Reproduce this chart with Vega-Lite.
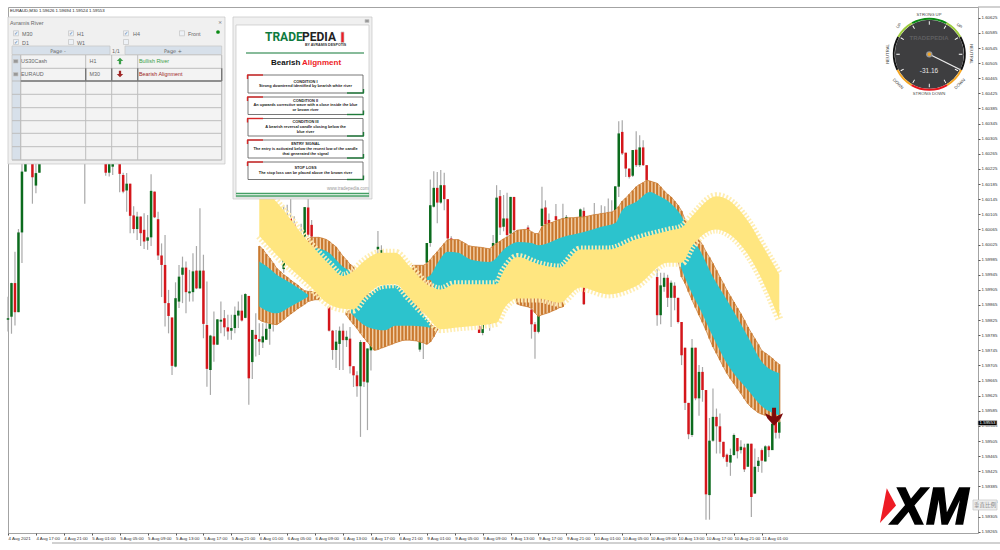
{"$schema":"https://vega.github.io/schema/vega-lite/v6.json","width":970,"height":526,"autosize":"none","padding":{"left":8,"top":7,"right":22,"bottom":17},"background":"white","config":{"view":{"stroke":"#a3a3a3","strokeWidth":1},"legend":{"disable":true},"text":{"font":"Liberation Sans"},"axis":{"labelFont":"Liberation Sans","labelFontSize":4.4,"labelColor":"#333","tickColor":"#555","tickSize":2,"domain":false,"grid":false,"title":null,"labelOverlap":false,"labelBound":false,"labelFlush":false}},
"datasets":{
"candles":[
{"b":0,"o":1.59826,"h":1.59887,"l":1.59795,"c":1.5983},{"b":1,"o":1.59834,"h":1.59924,"l":1.59789,"c":1.59923},{"b":2,"o":1.59923,"h":1.60006,"l":1.59811,"c":1.59846},{"b":3,"o":1.59846,"h":1.60066,"l":1.59846,"c":1.60057},{"b":4,"o":1.60057,"h":1.6024,"l":1.59976,"c":1.60218},{"b":5,"o":1.60218,"h":1.6027,"l":1.60218,"c":1.60245},{"b":7,"o":1.6026,"h":1.6027,"l":1.60133,"c":1.60203},{"b":8,"o":1.60181,"h":1.6024,"l":1.60161,"c":1.60214},{"b":9,"o":1.60215,"h":1.6027,"l":1.60215,"c":1.6025},{"b":22,"o":1.603,"h":1.6032,"l":1.60133,"c":1.6031},{"b":28,"o":1.6026,"h":1.6027,"l":1.60207,"c":1.60215},{"b":29,"o":1.60215,"h":1.6027,"l":1.60205,"c":1.60255},{"b":30,"o":1.60231,"h":1.6027,"l":1.60209,"c":1.6024},{"b":32,"o":1.6025,"h":1.6027,"l":1.60163,"c":1.60212},{"b":33,"o":1.60209,"h":1.60215,"l":1.60161,"c":1.60165},{"b":34,"o":1.60168,"h":1.60214,"l":1.60112,"c":1.60186},{"b":35,"o":1.60186,"h":1.60186,"l":1.60055,"c":1.60101},{"b":36,"o":1.60102,"h":1.60126,"l":1.60055,"c":1.60066},{"b":37,"o":1.60066,"h":1.60112,"l":1.60037,"c":1.60099},{"b":38,"o":1.60099,"h":1.60099,"l":1.60021,"c":1.60055},{"b":39,"o":1.60064,"h":1.60108,"l":1.60013,"c":1.60033},{"b":40,"o":1.60035,"h":1.60103,"l":1.60011,"c":1.60044},{"b":41,"o":1.60044,"h":1.60211,"l":1.60021,"c":1.60167},{"b":42,"o":1.60165,"h":1.60165,"l":1.60095,"c":1.60097},{"b":43,"o":1.60092,"h":1.60112,"l":1.59984,"c":1.59996},{"b":44,"o":1.59996,"h":1.60028,"l":1.59886,"c":1.59971},{"b":45,"o":1.59971,"h":1.6005,"l":1.59808,"c":1.5987},{"b":46,"o":1.5987,"h":1.59905,"l":1.5979,"c":1.59836},{"b":47,"o":1.59832,"h":1.59832,"l":1.5968,"c":1.59704},{"b":48,"o":1.59702,"h":1.59925,"l":1.597,"c":1.59883},{"b":49,"o":1.59874,"h":1.59971,"l":1.59857,"c":1.5994},{"b":50,"o":1.59945,"h":1.59993,"l":1.5987,"c":1.59964},{"b":51,"o":1.59964,"h":1.5998,"l":1.59843,"c":1.59899},{"b":52,"o":1.59896,"h":1.59958,"l":1.59874,"c":1.59901},{"b":53,"o":1.59899,"h":1.60002,"l":1.59874,"c":1.59954},{"b":54,"o":1.59956,"h":1.60021,"l":1.59907,"c":1.59909},{"b":55,"o":1.59909,"h":1.60121,"l":1.59907,"c":1.59956},{"b":56,"o":1.59956,"h":1.59998,"l":1.59777,"c":1.59815},{"b":57,"o":1.59812,"h":1.59927,"l":1.59649,"c":1.59696},{"b":58,"o":1.59693,"h":1.59786,"l":1.59627,"c":1.59784},{"b":59,"o":1.59782,"h":1.59848,"l":1.59715,"c":1.5976},{"b":60,"o":1.5976,"h":1.59827,"l":1.5976,"c":1.59827},{"b":61,"o":1.59821,"h":1.59874,"l":1.5979,"c":1.59826},{"b":62,"o":1.5983,"h":1.59852,"l":1.59782,"c":1.59806},{"b":63,"o":1.59806,"h":1.59839,"l":1.59773,"c":1.59795},{"b":64,"o":1.59797,"h":1.59839,"l":1.59773,"c":1.59804},{"b":65,"o":1.59804,"h":1.59861,"l":1.5979,"c":1.59839},{"b":66,"o":1.59837,"h":1.59874,"l":1.59804,"c":1.5985},{"b":67,"o":1.5985,"h":1.59892,"l":1.59821,"c":1.59824},{"b":68,"o":1.59831,"h":1.59896,"l":1.5983,"c":1.59894},{"b":69,"o":1.59889,"h":1.59889,"l":1.59601,"c":1.59671},{"b":70,"o":1.59714,"h":1.59799,"l":1.59669,"c":1.59799},{"b":71,"o":1.59786,"h":1.59843,"l":1.59729,"c":1.59775},{"b":72,"o":1.59775,"h":1.59817,"l":1.59733,"c":1.59768},{"b":73,"o":1.59766,"h":1.59817,"l":1.59751,"c":1.59782},{"b":74,"o":1.59773,"h":1.59826,"l":1.59773,"c":1.59802},{"b":75,"o":1.59802,"h":1.59852,"l":1.5976,"c":1.59815},{"b":76,"o":1.59815,"h":1.59861,"l":1.59795,"c":1.59825},{"b":79,"o":1.5996,"h":1.60126,"l":1.5995,"c":1.6001},{"b":80,"o":1.6001,"h":1.6013,"l":1.5999,"c":1.6004},{"b":81,"o":1.60095,"h":1.60161,"l":1.6,"c":1.6008},{"b":82,"o":1.6008,"h":1.601,"l":1.6,"c":1.6002},{"b":84,"o":1.6,"h":1.6008,"l":1.5998,"c":1.6005},{"b":85,"o":1.60046,"h":1.60124,"l":1.60037,"c":1.60124},{"b":86,"o":1.60123,"h":1.60148,"l":1.60046,"c":1.60051},{"b":87,"o":1.60077,"h":1.6009,"l":1.60042,"c":1.60046},{"b":92,"o":1.59861,"h":1.59861,"l":1.59795,"c":1.59797},{"b":93,"o":1.59797,"h":1.59799,"l":1.5972,"c":1.59746},{"b":94,"o":1.59746,"h":1.59799,"l":1.59698,"c":1.59768},{"b":95,"o":1.59762,"h":1.59808,"l":1.59693,"c":1.59797},{"b":96,"o":1.59797,"h":1.59816,"l":1.59693,"c":1.59772},{"b":97,"o":1.59772,"h":1.59797,"l":1.59754,"c":1.59781},{"b":98,"o":1.59776,"h":1.59807,"l":1.59684,"c":1.59703},{"b":99,"o":1.59703,"h":1.59703,"l":1.59648,"c":1.59679},{"b":100,"o":1.59679,"h":1.5969,"l":1.59622,"c":1.5965},{"b":101,"o":1.5965,"h":1.59772,"l":1.59516,"c":1.59767},{"b":102,"o":1.59767,"h":1.59767,"l":1.59648,"c":1.59662},{"b":103,"o":1.5966,"h":1.5975,"l":1.59534,"c":1.5975},{"b":104,"o":1.59745,"h":1.598,"l":1.59692,"c":1.5979},{"b":106,"o":1.60012,"h":1.60061,"l":1.5995,"c":1.60019},{"b":107,"o":1.6,"h":1.60023,"l":1.5995,"c":1.6001},{"b":118,"o":1.59747,"h":1.598,"l":1.59741,"c":1.59767},{"b":119,"o":1.5979,"h":1.5983,"l":1.59722,"c":1.5977},{"b":120,"o":1.59977,"h":1.60029,"l":1.59975,"c":1.60029},{"b":121,"o":1.60029,"h":1.60197,"l":1.60019,"c":1.60129},{"b":122,"o":1.60125,"h":1.60219,"l":1.60123,"c":1.60175},{"b":123,"o":1.60175,"h":1.60217,"l":1.60081,"c":1.60136},{"b":124,"o":1.60136,"h":1.60222,"l":1.60133,"c":1.60182},{"b":125,"o":1.60182,"h":1.60215,"l":1.60116,"c":1.60145},{"b":126,"o":1.60145,"h":1.60145,"l":1.60038,"c":1.60041},{"b":127,"o":1.60041,"h":1.60047,"l":1.5999,"c":1.60035},{"b":135,"o":1.59809,"h":1.5984,"l":1.59791,"c":1.59791},{"b":136,"o":1.59791,"h":1.5983,"l":1.59785,"c":1.59812},{"b":138,"o":1.5983,"h":1.5986,"l":1.59797,"c":1.59815},{"b":139,"o":1.60019,"h":1.6005,"l":1.5999,"c":1.60029},{"b":140,"o":1.60028,"h":1.60182,"l":1.60014,"c":1.60149},{"b":141,"o":1.60153,"h":1.60169,"l":1.6005,"c":1.6007},{"b":142,"o":1.60072,"h":1.60156,"l":1.6006,"c":1.60094},{"b":143,"o":1.60094,"h":1.60162,"l":1.6004,"c":1.6005},{"b":144,"o":1.60054,"h":1.60151,"l":1.6004,"c":1.60151},{"b":145,"o":1.60151,"h":1.60151,"l":1.6005,"c":1.60063},{"b":149,"o":1.6007,"h":1.60076,"l":1.6003,"c":1.6006},{"b":150,"o":1.59853,"h":1.599,"l":1.59776,"c":1.59814},{"b":151,"o":1.59814,"h":1.5982,"l":1.59723,"c":1.59794},{"b":152,"o":1.59794,"h":1.5985,"l":1.5979,"c":1.59838},{"b":153,"o":1.60074,"h":1.60178,"l":1.6007,"c":1.6012},{"b":154,"o":1.60123,"h":1.60142,"l":1.60072,"c":1.60079},{"b":155,"o":1.6009,"h":1.60107,"l":1.6006,"c":1.6008},{"b":157,"o":1.601,"h":1.60132,"l":1.6007,"c":1.6009},{"b":159,"o":1.6009,"h":1.60133,"l":1.6007,"c":1.60094},{"b":160,"o":1.60085,"h":1.60103,"l":1.6007,"c":1.60098},{"b":164,"o":1.60096,"h":1.6012,"l":1.6009,"c":1.60118},{"b":165,"o":1.60114,"h":1.60123,"l":1.59865,"c":1.59867},{"b":168,"o":1.601,"h":1.60135,"l":1.6007,"c":1.6009},{"b":170,"o":1.601,"h":1.60129,"l":1.6007,"c":1.6009},{"b":171,"o":1.601,"h":1.60126,"l":1.6007,"c":1.6009},{"b":172,"o":1.601,"h":1.60147,"l":1.6007,"c":1.6009},{"b":173,"o":1.601,"h":1.60142,"l":1.6007,"c":1.6009},{"b":174,"o":1.60116,"h":1.60179,"l":1.6011,"c":1.60179},{"b":175,"o":1.60178,"h":1.60351,"l":1.60151,"c":1.60319},{"b":176,"o":1.60323,"h":1.60354,"l":1.60262,"c":1.60266},{"b":177,"o":1.60268,"h":1.60268,"l":1.60204,"c":1.60226},{"b":178,"o":1.60226,"h":1.60226,"l":1.602,"c":1.60204},{"b":179,"o":1.60207,"h":1.60275,"l":1.60204,"c":1.60275},{"b":180,"o":1.60276,"h":1.60325,"l":1.6023,"c":1.60235},{"b":181,"o":1.60235,"h":1.60314,"l":1.6023,"c":1.60282},{"b":182,"o":1.60282,"h":1.60301,"l":1.60233,"c":1.60235},{"b":183,"o":1.60235,"h":1.60235,"l":1.6019,"c":1.60195},{"b":186,"o":1.59939,"h":1.5996,"l":1.5981,"c":1.59838},{"b":187,"o":1.59838,"h":1.5995,"l":1.59814,"c":1.59917},{"b":188,"o":1.59913,"h":1.5995,"l":1.599,"c":1.59937},{"b":189,"o":1.59937,"h":1.59945,"l":1.5986,"c":1.59884},{"b":190,"o":1.59884,"h":1.5993,"l":1.59807,"c":1.59924},{"b":191,"o":1.59916,"h":1.59925,"l":1.59851,"c":1.59884},{"b":192,"o":1.59884,"h":1.59884,"l":1.59816,"c":1.5982},{"b":193,"o":1.5982,"h":1.5982,"l":1.59706,"c":1.59732},{"b":194,"o":1.59752,"h":1.59752,"l":1.59587,"c":1.59606},{"b":195,"o":1.59606,"h":1.59606,"l":1.5951,"c":1.59523},{"b":196,"o":1.59521,"h":1.59775,"l":1.59516,"c":1.59752},{"b":197,"o":1.59752,"h":1.59752,"l":1.59613,"c":1.59618},{"b":198,"o":1.59618,"h":1.59706,"l":1.59572,"c":1.59688},{"b":199,"o":1.59688,"h":1.59701,"l":1.59609,"c":1.5964},{"b":200,"o":1.5964,"h":1.5964,"l":1.59297,"c":1.59364},{"b":201,"o":1.59362,"h":1.59566,"l":1.59297,"c":1.59506},{"b":202,"o":1.59506,"h":1.59644,"l":1.59503,"c":1.59569},{"b":203,"o":1.59569,"h":1.59591,"l":1.59472,"c":1.59544},{"b":204,"o":1.59544,"h":1.59578,"l":1.59472,"c":1.59503},{"b":205,"o":1.59503,"h":1.59503,"l":1.59459,"c":1.59463},{"b":206,"o":1.59469,"h":1.59472,"l":1.59437,"c":1.5945},{"b":207,"o":1.59448,"h":1.59485,"l":1.59413,"c":1.59468},{"b":208,"o":1.59468,"h":1.59525,"l":1.59466,"c":1.59521},{"b":209,"o":1.59513,"h":1.59513,"l":1.59459,"c":1.59478},{"b":210,"o":1.59481,"h":1.59507,"l":1.59472,"c":1.5949},{"b":211,"o":1.59488,"h":1.59498,"l":1.59423,"c":1.5943},{"b":212,"o":1.59437,"h":1.59498,"l":1.59437,"c":1.59498},{"b":213,"o":1.59498,"h":1.59498,"l":1.59304,"c":1.59357},{"b":214,"o":1.59366,"h":1.59485,"l":1.59366,"c":1.59437},{"b":215,"o":1.59439,"h":1.59463,"l":1.59423,"c":1.59453},{"b":216,"o":1.59481,"h":1.59485,"l":1.59421,"c":1.59453},{"b":217,"o":1.59451,"h":1.59494,"l":1.59451,"c":1.59491},{"b":218,"o":1.59491,"h":1.59494,"l":1.59463,"c":1.59481},{"b":219,"o":1.59481,"h":1.5956,"l":1.59481,"c":1.59551},{"b":220,"o":1.5956,"h":1.5957,"l":1.59512,"c":1.59527},{"b":221,"o":1.59527,"h":1.59565,"l":1.59512,"c":1.59556}],
"brown":[
{"s":1,"b":72,"t":1.60021,"u":1.59826},{"s":1,"b":73,"t":1.60013,"u":1.59821},{"s":1,"b":74,"t":1.6,"u":1.59819},{"s":1,"b":75,"t":1.59989,"u":1.59816},{"s":1,"b":76,"t":1.59976,"u":1.59814},{"s":1,"b":77,"t":1.59962,"u":1.59813},{"s":1,"b":78,"t":1.59954,"u":1.59819},{"s":1,"b":79,"t":1.59945,"u":1.59826},{"s":1,"b":80,"t":1.59939,"u":1.59834},{"s":1,"b":81,"t":1.59931,"u":1.59841},{"s":1,"b":82,"t":1.59924,"u":1.59848},{"s":1,"b":83,"t":1.59918,"u":1.59855},{"s":1,"b":84,"t":1.59909,"u":1.59861},{"s":1,"b":85,"t":1.59903,"u":1.59867},{"s":1,"b":86,"t":1.59901,"u":1.59874},{"s":1,"b":87,"t":1.59901,"u":1.59877},{"s":1,"b":88,"t":1.59898,"u":1.59879},{"s":1,"b":89,"t":1.59898,"u":1.59879},
{"s":2,"b":86,"t":1.60041,"u":1.5996},{"s":2,"b":87,"t":1.60044,"u":1.5996},{"s":2,"b":88,"t":1.60044,"u":1.5996},{"s":2,"b":89,"t":1.60044,"u":1.5996},{"s":2,"b":90,"t":1.60042,"u":1.5996},{"s":2,"b":91,"t":1.60039,"u":1.5992},{"s":2,"b":92,"t":1.60034,"u":1.5992},{"s":2,"b":93,"t":1.60026,"u":1.5992},{"s":2,"b":94,"t":1.60019,"u":1.5992},{"s":2,"b":95,"t":1.60006,"u":1.5992},{"s":2,"b":96,"t":1.59994,"u":1.5992},{"s":2,"b":97,"t":1.59984,"u":1.5992},{"s":2,"b":98,"t":1.59973,"u":1.5992},{"s":2,"b":99,"t":1.59966,"u":1.5992},
{"s":3,"b":97,"t":1.59847,"u":1.59838},{"s":3,"b":98,"t":1.59851,"u":1.59825},{"s":3,"b":99,"t":1.59856,"u":1.59814},{"s":3,"b":100,"t":1.59869,"u":1.59803},{"s":3,"b":101,"t":1.59878,"u":1.5979},{"s":3,"b":102,"t":1.59887,"u":1.59778},{"s":3,"b":103,"t":1.59895,"u":1.59767},{"s":3,"b":104,"t":1.59895,"u":1.59756},{"s":3,"b":105,"t":1.59895,"u":1.59745},{"s":3,"b":106,"t":1.59895,"u":1.59747},{"s":3,"b":107,"t":1.59895,"u":1.59751},{"s":3,"b":108,"t":1.59895,"u":1.59754},{"s":3,"b":109,"t":1.59895,"u":1.59758},{"s":3,"b":110,"t":1.59895,"u":1.59761},{"s":3,"b":111,"t":1.59895,"u":1.59765},{"s":3,"b":112,"t":1.59895,"u":1.59768},{"s":3,"b":113,"t":1.59895,"u":1.59771},{"s":3,"b":114,"t":1.59895,"u":1.59772},{"s":3,"b":115,"t":1.59895,"u":1.59772},{"s":3,"b":116,"t":1.59895,"u":1.59771},{"s":3,"b":117,"t":1.59895,"u":1.5977},{"s":3,"b":118,"t":1.59895,"u":1.59767},{"s":3,"b":119,"t":1.59834,"u":1.59765},{"s":3,"b":120,"t":1.59825,"u":1.59761},{"s":3,"b":121,"t":1.59816,"u":1.59767},{"s":3,"b":122,"t":1.59807,"u":1.59781},{"s":3,"b":123,"t":1.59803,"u":1.59798},
{"s":4,"b":116,"t":1.5997,"u":1.59913},{"s":4,"b":117,"t":1.5997,"u":1.59913},{"s":4,"b":118,"t":1.5997,"u":1.59913},{"s":4,"b":119,"t":1.5997,"u":1.59913},{"s":4,"b":120,"t":1.59975,"u":1.59913},{"s":4,"b":121,"t":1.59985,"u":1.59913},{"s":4,"b":122,"t":1.59996,"u":1.59913},{"s":4,"b":123,"t":1.60006,"u":1.59913},{"s":4,"b":124,"t":1.60017,"u":1.59913},{"s":4,"b":125,"t":1.60028,"u":1.59913},{"s":4,"b":126,"t":1.60038,"u":1.59913},{"s":4,"b":127,"t":1.60038,"u":1.59913},{"s":4,"b":128,"t":1.60038,"u":1.59913},{"s":4,"b":129,"t":1.60038,"u":1.59913},{"s":4,"b":130,"t":1.60033,"u":1.59913},{"s":4,"b":131,"t":1.60028,"u":1.59913},{"s":4,"b":132,"t":1.60022,"u":1.59913},{"s":4,"b":133,"t":1.6002,"u":1.59913},{"s":4,"b":134,"t":1.60019,"u":1.59913},{"s":4,"b":135,"t":1.60018,"u":1.59913},{"s":4,"b":136,"t":1.60017,"u":1.59913},{"s":4,"b":137,"t":1.60015,"u":1.59913},{"s":4,"b":138,"t":1.60014,"u":1.59913},{"s":4,"b":139,"t":1.60021,"u":1.59913},{"s":4,"b":140,"t":1.60028,"u":1.59913},{"s":4,"b":141,"t":1.60034,"u":1.59913},{"s":4,"b":142,"t":1.6004,"u":1.59913},{"s":4,"b":143,"t":1.60045,"u":1.59913},{"s":4,"b":144,"t":1.60051,"u":1.59913},{"s":4,"b":145,"t":1.60057,"u":1.59913},{"s":4,"b":146,"t":1.60063,"u":1.59867},{"s":4,"b":147,"t":1.60064,"u":1.59864},{"s":4,"b":148,"t":1.60065,"u":1.59862},{"s":4,"b":149,"t":1.60065,"u":1.5986},{"s":4,"b":150,"t":1.60059,"u":1.59856},{"s":4,"b":151,"t":1.60054,"u":1.59844},{"s":4,"b":152,"t":1.60054,"u":1.59835},{"s":4,"b":153,"t":1.60072,"u":1.59839},{"s":4,"b":154,"t":1.60078,"u":1.59842},{"s":4,"b":155,"t":1.60081,"u":1.59845},{"s":4,"b":156,"t":1.60084,"u":1.59849},{"s":4,"b":157,"t":1.60088,"u":1.59853},{"s":4,"b":158,"t":1.60091,"u":1.59858},{"s":4,"b":159,"t":1.60094,"u":1.5986},{"s":4,"b":160,"t":1.60095,"u":1.59922},{"s":4,"b":161,"t":1.60096,"u":1.59922},{"s":4,"b":162,"t":1.60096,"u":1.59922},{"s":4,"b":163,"t":1.60097,"u":1.59922},{"s":4,"b":164,"t":1.60098,"u":1.59922},{"s":4,"b":165,"t":1.60098,"u":1.59922},{"s":4,"b":166,"t":1.601,"u":1.59922},{"s":4,"b":167,"t":1.60102,"u":1.59922},{"s":4,"b":168,"t":1.60104,"u":1.59922},{"s":4,"b":169,"t":1.60105,"u":1.59922},{"s":4,"b":170,"t":1.60107,"u":1.59922},{"s":4,"b":171,"t":1.60108,"u":1.59922},{"s":4,"b":172,"t":1.6011,"u":1.59922},{"s":4,"b":173,"t":1.60111,"u":1.59922},{"s":4,"b":174,"t":1.60116,"u":1.59922},{"s":4,"b":175,"t":1.60126,"u":1.59922},{"s":4,"b":176,"t":1.6014,"u":1.59922},{"s":4,"b":177,"t":1.60148,"u":1.59922},{"s":4,"b":178,"t":1.60158,"u":1.59922},{"s":4,"b":179,"t":1.60168,"u":1.59922},{"s":4,"b":180,"t":1.60178,"u":1.59984},{"s":4,"b":181,"t":1.60184,"u":1.59984},{"s":4,"b":182,"t":1.60189,"u":1.59984},{"s":4,"b":183,"t":1.60195,"u":1.59984},{"s":4,"b":184,"t":1.60193,"u":1.59984},{"s":4,"b":185,"t":1.6019,"u":1.59984},{"s":4,"b":186,"t":1.60187,"u":1.59984},{"s":4,"b":187,"t":1.60178,"u":1.59984},{"s":4,"b":188,"t":1.60167,"u":1.59984},{"s":4,"b":189,"t":1.60158,"u":1.59984},{"s":4,"b":190,"t":1.60151,"u":1.59984},{"s":4,"b":191,"t":1.6014,"u":1.59984},{"s":4,"b":192,"t":1.60129,"u":1.59984},{"s":4,"b":193,"t":1.60114,"u":1.59939},{"s":4,"b":194,"t":1.60091,"u":1.59922},{"s":4,"b":195,"t":1.60081,"u":1.599},{"s":4,"b":196,"t":1.60067,"u":1.59878},{"s":4,"b":197,"t":1.60054,"u":1.59858},{"s":4,"b":198,"t":1.60039,"u":1.59838},{"s":4,"b":199,"t":1.60024,"u":1.59819},{"s":4,"b":200,"t":1.60006,"u":1.59798},{"s":4,"b":201,"t":1.59991,"u":1.59776},{"s":4,"b":202,"t":1.59975,"u":1.59754},{"s":4,"b":203,"t":1.59957,"u":1.59737},{"s":4,"b":204,"t":1.59939,"u":1.59719},{"s":4,"b":205,"t":1.59922,"u":1.59701},{"s":4,"b":206,"t":1.59904,"u":1.59684},{"s":4,"b":207,"t":1.59888,"u":1.5967},{"s":4,"b":208,"t":1.59873,"u":1.59657},{"s":4,"b":209,"t":1.59857,"u":1.59644},{"s":4,"b":210,"t":1.59842,"u":1.59631},{"s":4,"b":211,"t":1.59825,"u":1.59617},{"s":4,"b":212,"t":1.59807,"u":1.59604},{"s":4,"b":213,"t":1.59791,"u":1.59594},{"s":4,"b":214,"t":1.59776,"u":1.59587},{"s":4,"b":215,"t":1.59761,"u":1.5958},{"s":4,"b":216,"t":1.59744,"u":1.59576},{"s":4,"b":217,"t":1.59738,"u":1.59573},{"s":4,"b":218,"t":1.59731,"u":1.59569},{"s":4,"b":219,"t":1.59724,"u":1.59565},{"s":4,"b":220,"t":1.59715,"u":1.59558},{"s":4,"b":221,"t":1.59708,"u":1.59555}],
"blue":[
{"s":1,"b":72,"t":1.5998,"u":1.59861},{"s":1,"b":74,"t":1.59968,"u":1.5985},{"s":1,"b":77,"t":1.59945,"u":1.59843},{"s":1,"b":81,"t":1.59923,"u":1.59861},{"s":1,"b":86,"t":1.59892,"u":1.59887},
{"s":2,"b":88,"t":1.60015,"u":1.5996},{"s":2,"b":90,"t":1.60012,"u":1.5995},{"s":2,"b":92,"t":1.60003,"u":1.599},{"s":2,"b":94,"t":1.59985,"u":1.599},{"s":2,"b":96,"t":1.59966,"u":1.599},{"s":2,"b":98,"t":1.59955,"u":1.599},
{"s":3,"b":98,"t":1.59851,"u":1.59847},{"s":3,"b":103,"t":1.59891,"u":1.59807},{"s":3,"b":108,"t":1.59917,"u":1.59798},{"s":3,"b":111,"t":1.59917,"u":1.5981},{"s":3,"b":114,"t":1.59895,"u":1.5981},{"s":3,"b":118,"t":1.59851,"u":1.59809},{"s":3,"b":121,"t":1.59816,"u":1.59805},
{"s":4,"b":120,"t":1.59939,"u":1.59931},{"s":4,"b":121,"t":1.59944,"u":1.59931},{"s":4,"b":123,"t":1.59975,"u":1.59895},{"s":4,"b":126,"t":1.60006,"u":1.59895},{"s":4,"b":129,"t":1.60003,"u":1.59904},{"s":4,"b":133,"t":1.59984,"u":1.59904},{"s":4,"b":138,"t":1.59979,"u":1.59904},{"s":4,"b":143,"t":1.60019,"u":1.59931},{"s":4,"b":146,"t":1.60032,"u":1.59966},{"s":4,"b":150,"t":1.60029,"u":1.5996},{"s":4,"b":152,"t":1.60023,"u":1.59948},{"s":4,"b":159,"t":1.60045,"u":1.59939},{"s":4,"b":165,"t":1.60058,"u":1.59984},{"s":4,"b":170,"t":1.60072,"u":1.5999},{"s":4,"b":174,"t":1.60082,"u":1.5999},{"s":4,"b":176,"t":1.60116,"u":1.6},{"s":4,"b":180,"t":1.60138,"u":1.6001},{"s":4,"b":184,"t":1.60164,"u":1.6002},{"s":4,"b":186,"t":1.60156,"u":1.6003},{"s":4,"b":190,"t":1.60133,"u":1.6004},{"s":4,"b":193,"t":1.601,"u":1.5996},{"s":4,"b":196,"t":1.6004,"u":1.59895},{"s":4,"b":198,"t":1.60014,"u":1.5986},{"s":4,"b":202,"t":1.59939,"u":1.59781},{"s":4,"b":206,"t":1.59878,"u":1.5971},{"s":4,"b":212,"t":1.59781,"u":1.5964},{"s":4,"b":216,"t":1.59715,"u":1.59597},{"s":4,"b":221,"t":1.59685,"u":1.59573}],
"yellow":[
{"b":72,"t":1.60185,"u":1.60048},{"b":77,"t":1.60137,"u":1.59997},{"b":86,"t":1.60033,"u":1.5992},{"b":92,"t":1.59973,"u":1.59867},{"b":96,"t":1.59942,"u":1.59855},{"b":99,"t":1.59955,"u":1.59853},{"b":102,"t":1.59981,"u":1.59884},{"b":107,"t":1.60003,"u":1.59917},{"b":111,"t":1.60003,"u":1.5992},{"b":115,"t":1.59968,"u":1.59884},{"b":120,"t":1.5992,"u":1.59836},{"b":124,"t":1.59906,"u":1.59801},{"b":128,"t":1.5992,"u":1.59805},{"b":140,"t":1.5992,"u":1.59818},{"b":142,"t":1.59955,"u":1.59853},{"b":146,"t":1.59992,"u":1.59882},{"b":152,"t":1.59973,"u":1.59882},{"b":158,"t":1.59964,"u":1.59871},{"b":164,"t":1.60012,"u":1.59911},{"b":172,"t":1.60012,"u":1.59893},{"b":180,"t":1.60039,"u":1.59915},{"b":189,"t":1.60061,"u":1.59977},{"b":193,"t":1.6007,"u":1.59977},{"b":196,"t":1.601,"u":1.60021},{"b":203,"t":1.60153,"u":1.60065},{"b":206,"t":1.60145,"u":1.60056},{"b":212,"t":1.60087,"u":1.59999},{"b":216,"t":1.60025,"u":1.59933},{"b":221,"t":1.59946,"u":1.59827}],
"rects":[
{"r":"bg","x":8,"x2":225,"y":17,"y2":164},{"r":"bl","x":12,"x2":110,"y":46,"y2":54.5},{"r":"bl","x":125,"x2":221.7,"y":46,"y2":54.5},{"r":"bl","x":12,"x2":20.7,"y":55,"y2":160},{"r":"cell","x":20.7,"x2":221.7,"y":55,"y2":160},
{"r":"box","x":13.5,"x2":18.5,"y":30.8,"y2":35.8},{"r":"box","x":68.5,"x2":73.5,"y":30.8,"y2":35.8},{"r":"box","x":123.5,"x2":128.5,"y":30.8,"y2":35.8},{"r":"box","x":179.5,"x2":184.5,"y":30.8,"y2":35.8},{"r":"box","x":13.5,"x2":18.5,"y":39.5,"y2":44.5},{"r":"box","x":68.5,"x2":73.5,"y":39.5,"y2":44.5},{"r":"box","x":123.5,"x2":128.5,"y":39.5,"y2":44.5},
{"r":"gry","x":13.5,"x2":18,"y":59.5,"y2":63},{"r":"gry","x":13.5,"x2":18,"y":72.5,"y2":76},
{"r":"bg","x":233,"x2":372,"y":17,"y2":199},{"r":"wh","x":236,"x2":369,"y":25,"y2":197},{"r":"gry","x":365,"x2":369,"y":19.5,"y2":22.5},{"r":"hr","x":341,"x2":344,"y":32,"y2":42.5},
{"r":"blk","x":978,"x2":997,"y":420.5,"y2":425.5},{"r":"btn2","x":973,"x2":997,"y":500,"y2":510}],
"boxes":[{"x":248,"x2":363,"y":75,"y2":93},{"x":248,"x2":363,"y":97,"y2":114.5},{"x":248,"x2":363,"y":118.5,"y2":136},{"x":248,"x2":363,"y":140,"y2":158},{"x":248,"x2":363,"y":162,"y2":179.5}],
"rules":[
{"r":"grid","x":20.7,"x2":221.7,"y":68.3,"y2":68.3},{"r":"grid","x":12,"x2":221.7,"y":81,"y2":81},{"r":"grid","x":12,"x2":221.7,"y":94.3,"y2":94.3},{"r":"grid","x":12,"x2":221.7,"y":107.7,"y2":107.7},{"r":"grid","x":12,"x2":221.7,"y":120.7,"y2":120.7},{"r":"grid","x":12,"x2":221.7,"y":133.3,"y2":133.3},{"r":"grid","x":12,"x2":221.7,"y":146.7,"y2":146.7},{"r":"grid","x":12,"x2":221.7,"y":160,"y2":160},{"r":"grid","x":20.7,"x2":20.7,"y":55,"y2":160},{"r":"grid","x":85.7,"x2":85.7,"y":55,"y2":160},{"r":"grid","x":111.7,"x2":111.7,"y":55,"y2":160},{"r":"grid","x":137.7,"x2":137.7,"y":55,"y2":160},{"r":"grid","x":221.7,"x2":221.7,"y":55,"y2":160},
{"r":"sel","x":20.7,"x2":221.7,"y":81,"y2":81},{"r":"sel","x":221.7,"x2":221.7,"y":68.3,"y2":81},{"r":"sel","x":85.7,"x2":85.7,"y":68.3,"y2":81},{"r":"sel","x":111.7,"x2":111.7,"y":68.3,"y2":81},{"r":"sel","x":137.7,"x2":137.7,"y":68.3,"y2":81},
{"r":"frame","x":978,"x2":1000,"y":7,"y2":7},{"r":"frame","x":52,"x2":1000,"y":543,"y2":543},
{"r":"ln","x":246,"x2":364,"y":53,"y2":53},{"r":"st","x":236,"x2":369,"y":193.5,"y2":193.5},{"r":"st","x":236,"x2":369,"y":196,"y2":196},
{"r":"cr","x":247,"x2":263,"y":75,"y2":75},{"r":"cr","x":247.5,"x2":247.5,"y":75,"y2":79},{"r":"cg","x":347,"x2":364,"y":93,"y2":93},{"r":"cg","x":363.5,"x2":363.5,"y":89,"y2":93},
{"r":"cr","x":247,"x2":263,"y":97,"y2":97},{"r":"cr","x":247.5,"x2":247.5,"y":97,"y2":101},{"r":"cg","x":347,"x2":364,"y":114.5,"y2":114.5},{"r":"cg","x":363.5,"x2":363.5,"y":110.5,"y2":114.5},
{"r":"cr","x":247,"x2":263,"y":118.5,"y2":118.5},{"r":"cr","x":247.5,"x2":247.5,"y":118.5,"y2":122.5},{"r":"cg","x":347,"x2":364,"y":136,"y2":136},{"r":"cg","x":363.5,"x2":363.5,"y":132,"y2":136},
{"r":"cr","x":247,"x2":263,"y":140,"y2":140},{"r":"cr","x":247.5,"x2":247.5,"y":140,"y2":144},{"r":"cg","x":347,"x2":364,"y":158,"y2":158},{"r":"cg","x":363.5,"x2":363.5,"y":154,"y2":158},
{"r":"cr","x":247,"x2":263,"y":162,"y2":162},{"r":"cr","x":247.5,"x2":247.5,"y":162,"y2":166},{"r":"cg","x":347,"x2":364,"y":179.5,"y2":179.5},{"r":"cg","x":363.5,"x2":363.5,"y":175.5,"y2":179.5}],
"textL":[
{"r":"title","x":10,"y":11,"t":"EURAUD,M30  1.59626 1.59694 1.59524 1.59553"},{"r":"ui","x":10,"y":22.5,"t":"Avramis River"},{"r":"ui","x":22,"y":33.5,"t":"M30"},{"r":"ui","x":77,"y":33.5,"t":"H1"},{"r":"ui","x":133,"y":33.5,"t":"H4"},{"r":"ui","x":188,"y":33.5,"t":"Front"},{"r":"ui","x":22,"y":42.5,"t":"D1"},{"r":"ui","x":77,"y":42.5,"t":"W1"},{"r":"ui","x":21,"y":61,"t":"US30Cash"},{"r":"ui","x":89.5,"y":61,"t":"H1"},{"r":"ui","x":21,"y":74,"t":"EURAUD"},{"r":"ui","x":89.5,"y":74,"t":"M30"},{"r":"bull","x":139,"y":61,"t":"Bullish River"},{"r":"bear","x":139,"y":74,"t":"Bearish Alignment"},{"r":"www","x":327,"y":188.5,"t":"www.tradepedia.com"}],
"textC":[
{"r":"ui","x":58,"y":50.5,"t":"Page -"},{"r":"ui","x":116,"y":50.5,"t":"1/1"},{"r":"ui","x":173,"y":50.5,"t":"Page +"},{"r":"ui","x":220,"y":22,"t":"×"},{"r":"chk","x":16,"y":33.3,"t":"✓"},{"r":"chk","x":71,"y":33.3,"t":"✓"},{"r":"chk","x":126,"y":33.3,"t":"✓"},{"r":"chk","x":16,"y":42,"t":"✓"},{"r":"val","x":929,"y":71,"t":"-31.16"},{"r":"tag","x":987.5,"y":423,"t":"1.59553"}],
"textB":[
{"r":"h","x":305.5,"y":81.7,"t":"CONDITION I"},{"r":"h","x":305.5,"y":86.2,"t":"Strong downtrend identified by bearish white river"},{"r":"h","x":305.5,"y":100.7,"t":"CONDITION II"},{"r":"h","x":305.5,"y":105.3,"t":"An upwards corrective wave with a close inside the blue"},{"r":"h","x":305.5,"y":110,"t":"or brown river"},{"r":"h","x":305.5,"y":122.3,"t":"CONDITION III"},{"r":"h","x":305.5,"y":127,"t":"A bearish reversal candle closing below the"},{"r":"h","x":305.5,"y":132,"t":"blue river"},{"r":"h","x":305.5,"y":144,"t":"ENTRY SIGNAL"},{"r":"h","x":305.5,"y":148.7,"t":"The entry is activated below the recent low of the candle"},{"r":"h","x":305.5,"y":153.7,"t":"that generated the signal"},{"r":"h","x":305.5,"y":168,"t":"STOP LOSS"},{"r":"h","x":305.5,"y":172.7,"t":"The stop loss can be placed above the brown river"},{"r":"faint","x":929,"y":38,"t":"TRADEPEDIA"}],
"textBL":[{"r":"hb","x":271,"y":63,"t":"Bearish"},{"r":"hr","x":302,"y":63,"t":"Alignment"},{"r":"sub","x":305,"y":45,"t":"BY AVRAMIS DESPOTIS"}],
"brand":[{"r":"tg","x":265,"y":37,"t":"TRADE"},{"r":"td","x":302,"y":37,"t":"PEDIA"}],
"gaugeText":[{"r":"g","x":929,"y":15,"a":0,"t":"STRONG UP"},{"r":"g","x":899,"y":26,"a":-45,"t":"UP"},{"r":"g","x":959,"y":26,"a":45,"t":"UP"},{"r":"g","x":888,"y":54,"a":-90,"t":"NEUTRAL"},{"r":"g","x":971,"y":54,"a":90,"t":"NEUTRAL"},{"r":"g","x":898,"y":84,"a":45,"t":"DOWN"},{"r":"g","x":960,"y":84,"a":-45,"t":"DOWN"},{"r":"g","x":929,"y":94,"a":0,"t":"STRONG DOWN"}],
"disk":[{"r":"disk","x":929.3,"y":54.3,"a":0,"e":6.2832}],
"rings":[{"r":"rg","x":929.3,"y":54.3,"a":-0.506,"e":0.506},{"r":"rl","x":929.3,"y":54.3,"a":-1.065,"e":-0.506},{"r":"rl","x":929.3,"y":54.3,"a":0.506,"e":1.065},{"r":"rk","x":929.3,"y":54.3,"a":-2.025,"e":-1.065},{"r":"rk","x":929.3,"y":54.3,"a":1.065,"e":2.025},{"r":"ro","x":929.3,"y":54.3,"a":-2.618,"e":-2.025},{"r":"ro","x":929.3,"y":54.3,"a":2.025,"e":2.618},{"r":"rr","x":929.3,"y":54.3,"a":2.618,"e":3.665}],
"gticks":[{"r":"wh","x":929.3,"y":54.3,"a":-0.015,"e":0.015},{"r":"wh","x":929.3,"y":54.3,"a":0.509,"e":0.539},{"r":"wh","x":929.3,"y":54.3,"a":1.032,"e":1.062},{"r":"wh","x":929.3,"y":54.3,"a":1.556,"e":1.586},{"r":"wh","x":929.3,"y":54.3,"a":2.079,"e":2.109},{"r":"wh","x":929.3,"y":54.3,"a":2.603,"e":2.633},{"r":"wh","x":929.3,"y":54.3,"a":3.127,"e":3.157},{"r":"wh","x":929.3,"y":54.3,"a":-0.539,"e":-0.509},{"r":"wh","x":929.3,"y":54.3,"a":-1.062,"e":-1.032},{"r":"wh","x":929.3,"y":54.3,"a":-1.586,"e":-1.556},{"r":"wh","x":929.3,"y":54.3,"a":-2.109,"e":-2.079},{"r":"wh","x":929.3,"y":54.3,"a":-2.633,"e":-2.603}],
"needle":[{"r":"ndl","x":929.3,"x2":960,"y":54.3,"y2":69.5}]
},
"layer":[
{"encoding":{"x":{"field":"b","type":"quantitative","scale":{"domain":[0,277.94],"nice":false,"zero":false},"axis":{"orient":"bottom","tickCount":100,"values":[0,8,16,24,32,40,48,56,64,72,80,88,96,104,112,120,128,136,144,152,160,168,176,184,192,200,208,216],"labelAlign":"left","labelPadding":1,"labelExpr":"['4 Aug 2021','4 Aug 17:00','4 Aug 21:00','5 Aug 01:00','5 Aug 05:00','5 Aug 09:00','5 Aug 13:00','5 Aug 17:00','5 Aug 21:00','6 Aug 01:00','6 Aug 05:00','6 Aug 09:00','6 Aug 13:00','6 Aug 17:00','6 Aug 21:00','9 Aug 01:00','9 Aug 05:00','9 Aug 09:00','9 Aug 13:00','9 Aug 17:00','9 Aug 21:00','10 Aug 01:00','10 Aug 05:00','10 Aug 09:00','10 Aug 13:00','10 Aug 17:00','10 Aug 21:00','11 Aug 01:00'][datum.value/8]"}}},
"layer":[
{"data":{"name":"candles"},"mark":{"type":"rule","color":"#a9a9a9","strokeWidth":1.2},"encoding":{"y":{"field":"l","type":"quantitative","scale":{"domain":[1.592617,1.606535],"nice":false,"zero":false},"axis":{"orient":"right","format":".5f","labelPadding":1,"labelOverlap":false,"tickCount":100,"values":[1.60625,1.60585,1.60545,1.60505,1.60465,1.60425,1.60385,1.60345,1.60305,1.60265,1.60225,1.60185,1.60145,1.60105,1.60065,1.60025,1.59985,1.59945,1.59905,1.59865,1.59825,1.59785,1.59745,1.59705,1.59665,1.59625,1.59585,1.59545,1.59505,1.59465,1.59425,1.59385,1.59345,1.59305,1.59265]}},"y2":{"field":"h"}}},
{"data":{"name":"candles"},"mark":{"type":"rule","strokeWidth":2.5},"encoding":{"y":{"field":"o","type":"quantitative","axis":{"orient":"right","labelOverlap":false,"tickCount":100}},"y2":{"field":"c"},"color":{"condition":{"test":"datum.c>datum.o","value":"#0b6b1d"},"value":"#d4161b"}}},
{"data":{"name":"brown"},"mark":{"type":"area","color":"#f2cfa8","stroke":"#cc7f38","strokeWidth":0.8},"encoding":{"y":{"field":"t","type":"quantitative","axis":{"orient":"right","labelOverlap":false,"tickCount":100}},"y2":{"field":"u"},"detail":{"field":"s"}}},
{"data":{"name":"brown"},"mark":{"type":"rule","color":"#c9792f","strokeWidth":2.1},"encoding":{"y":{"field":"t","type":"quantitative","axis":{"orient":"right","labelOverlap":false,"tickCount":100}},"y2":{"field":"u"}}},
{"data":{"name":"blue"},"mark":{"type":"area","color":"#2cc3cd","interpolate":"monotone"},"encoding":{"y":{"field":"t","type":"quantitative","axis":{"orient":"right","labelOverlap":false,"tickCount":100}},"y2":{"field":"u"},"detail":{"field":"s"}}},
{"data":{"name":"yellow"},"mark":{"type":"line","color":"#ffedb0","strokeWidth":8,"strokeDash":[1.7,1.8],"interpolate":"monotone"},"encoding":{"y":{"field":"t","type":"quantitative","axis":{"orient":"right","labelOverlap":false,"tickCount":100}}}},
{"data":{"name":"yellow"},"mark":{"type":"line","color":"#ffedb0","strokeWidth":8,"strokeDash":[1.7,1.8],"interpolate":"monotone"},"encoding":{"y":{"field":"u","type":"quantitative","axis":{"orient":"right","labelOverlap":false,"tickCount":100}}}},
{"data":{"name":"yellow"},"mark":{"type":"area","color":"#ffe680","interpolate":"monotone"},"encoding":{"y":{"field":"t","type":"quantitative","axis":{"orient":"right","labelOverlap":false,"tickCount":100}},"y2":{"field":"u"}}},
{"data":{"values":[{"b":219.5,"p":1.59569}]},"mark":{"type":"point","filled":true,"opacity":1,"color":"#7d0a0a","size":324,"shape":"M-0.22,-1L0.22,-1L0.22,-0.05L1,-0.4L0.75,0.15L0,1L-0.75,0.15L-1,-0.4L-0.22,-0.05Z"},"encoding":{"y":{"field":"p","type":"quantitative","axis":{"orient":"right","labelOverlap":false,"tickCount":100}}}}
]},
{"encoding":{"x":{"field":"x","type":"quantitative","axis":null,"scale":{"domain":[0,1000],"range":[-8,992],"nice":false,"zero":false}},"y":{"field":"y","type":"quantitative","axis":null,"scale":{"domain":[0,550],"range":[-7,543],"nice":false,"zero":false}},"color":{"field":"r","type":"nominal","scale":{"domain":["title","ui","bull","bear","h","www","tg","td","sub","hb","hr","val","faint","g","btn","tag","chk","grid","sel","frame","cr","cg","ln","st","ndl","bg","wh","bl","cell","box","gry","blk","btn2","disk","rg","rl","rk","ro","rr"],"range":["#222222","#666666","#3a9e48","#a02828","#222222","#999999","#0d7a3e","#222222","#333333","#111111","#ee1c25","#e6e6e6","#5e5e60","#444444","#888888","#ffffff","#4472a8","#bdbdbd","#777777","#a3a3a3","#d62828","#1f7a3a","#5fa578","#45a065","#eeeeee","#f0f0f0","#ffffff","#d7e0ea","#f3f3f3","#eef2f7","#999999","#000000","#eeeeee","#3e3e40","#0a8a14","#9ccc3c","#111111","#f5a623","#e8141c"]}}},
"layer":[
{"data":{"name":"rects"},"mark":{"type":"rect","stroke":"#c4c4c4","strokeWidth":0.7},"encoding":{"x2":{"field":"x2"},"y2":{"field":"y2"}}},
{"data":{"name":"boxes"},"mark":{"type":"rect","stroke":"#555555","strokeWidth":0.8},"encoding":{"x2":{"field":"x2"},"y2":{"field":"y2"},"color":{"value":"#ffffff"}}},
{"data":{"name":"rules"},"transform":[{"filter":"datum.r=='grid'||datum.r=='frame'"}],"mark":{"type":"rule","strokeWidth":1},"encoding":{"x2":{"field":"x2"},"y2":{"field":"y2"}}},
{"data":{"name":"rules"},"transform":[{"filter":"datum.r!='grid'&&datum.r!='frame'"}],"mark":{"type":"rule","strokeWidth":1.4},"encoding":{"x2":{"field":"x2"},"y2":{"field":"y2"}}},
{"data":{"name":"textL"},"transform":[{"filter":"datum.r=='title'"}],"mark":{"type":"text","align":"left","baseline":"middle","fontSize":4.3},"encoding":{"text":{"field":"t"}}},
{"data":{"name":"textL"},"transform":[{"filter":"datum.r=='www'"}],"mark":{"type":"text","align":"left","baseline":"middle","fontSize":4.5},"encoding":{"text":{"field":"t"}}},
{"data":{"name":"textL"},"transform":[{"filter":"datum.r=='ui'||datum.r=='bull'||datum.r=='bear'"}],"mark":{"type":"text","align":"left","baseline":"middle","fontSize":5.4},"encoding":{"text":{"field":"t"}}},
{"data":{"name":"textC"},"transform":[{"filter":"datum.r=='ui'||datum.r=='chk'"}],"mark":{"type":"text","align":"center","baseline":"middle","font":"DejaVu Sans","fontSize":5},"encoding":{"text":{"field":"t"}}},
{"data":{"name":"textC"},"transform":[{"filter":"datum.r=='tag'"}],"mark":{"type":"text","align":"center","baseline":"middle","fontSize":4.4},"encoding":{"text":{"field":"t"}}},
{"data":{"name":"textB"},"transform":[{"filter":"datum.r=='h'"}],"mark":{"type":"text","align":"center","baseline":"middle","fontWeight":"bold","fontSize":3.9},"encoding":{"text":{"field":"t"}}},
{"data":{"name":"textBL"},"transform":[{"filter":"datum.r=='hb'||datum.r=='hr'"}],"mark":{"type":"text","align":"left","baseline":"middle","fontWeight":"bold","fontSize":8},"encoding":{"text":{"field":"t"}}},
{"data":{"name":"textBL"},"transform":[{"filter":"datum.r=='sub'"}],"mark":{"type":"text","align":"left","baseline":"middle","fontWeight":"bold","fontSize":3.6},"encoding":{"text":{"field":"t"}}},
{"data":{"name":"brand"},"mark":{"type":"text","align":"left","baseline":"middle","fontWeight":"bold","font":"Roboto","fontSize":12},"encoding":{"text":{"field":"t"}}},
{"data":{"name":"disk"},"mark":{"type":"arc","radius":34.5},"encoding":{"theta":{"field":"a","type":"quantitative","scale":null,"stack":null},"theta2":{"field":"e"}}},
{"data":{"name":"rings"},"mark":{"type":"arc","radius":36.5,"radius2":34.5},"encoding":{"theta":{"field":"a","type":"quantitative","scale":null,"stack":null},"theta2":{"field":"e"}}},
{"data":{"name":"gticks"},"mark":{"type":"arc","radius":33,"radius2":29.5},"encoding":{"theta":{"field":"a","type":"quantitative","scale":null,"stack":null},"theta2":{"field":"e"}}},
{"data":{"name":"needle"},"mark":{"type":"rule","strokeWidth":1.2},"encoding":{"x2":{"field":"x2"},"y2":{"field":"y2"}}},
{"data":{"values":[{"r":"gry","x":929.3,"y":54.3}]},"mark":{"type":"point","filled":true,"opacity":1,"size":40},"encoding":{}},
{"data":{"values":[{"r":"ro","x":929.3,"y":54.3}]},"mark":{"type":"point","filled":true,"opacity":1,"size":12},"encoding":{}},
{"data":{"name":"textC"},"transform":[{"filter":"datum.r=='val'"}],"mark":{"type":"text","align":"center","baseline":"middle","fontSize":6.5},"encoding":{"text":{"field":"t"}}},
{"data":{"name":"textB"},"transform":[{"filter":"datum.r=='faint'"}],"mark":{"type":"text","align":"center","baseline":"middle","fontWeight":"bold","fontSize":6},"encoding":{"text":{"field":"t"}}},
{"data":{"name":"gaugeText"},"mark":{"type":"text","align":"center","baseline":"middle","fontSize":4.2},"encoding":{"text":{"field":"t"},"angle":{"field":"a","type":"quantitative","scale":null}}},
{"data":{"values":[{"r":"rg","x":218,"y":32}]},"mark":{"type":"point","filled":true,"opacity":1,"size":14},"encoding":{}},
{"data":{"values":[{"r":"bull","x":120,"y":61}]},"mark":{"type":"point","filled":true,"opacity":1,"size":42,"shape":"M0,-1L1,0L0.35,0L0.35,1L-0.35,1L-0.35,0L-1,0Z"},"encoding":{}},
{"data":{"values":[{"r":"bear","x":120,"y":74}]},"mark":{"type":"point","filled":true,"opacity":1,"size":42,"shape":"M0,1L1,0L0.35,0L0.35,-1L-0.35,-1L-0.35,0L-1,0Z"},"encoding":{}},
{"data":{"values":[{"r":"hr","x":888,"y":505.5}]},"mark":{"type":"point","filled":true,"opacity":1,"size":1225,"shape":"M-0.07,-0.98L0.46,0L-0.46,1Z"},"encoding":{}},
{"data":{"values":[{"r":"blk","x":892,"y":524,"t":"XM"}]},"mark":{"type":"text","align":"left","baseline":"alphabetic","fontWeight":"bold","fontStyle":"italic","fontSize":51,"stroke":"#000000","strokeWidth":1.5},"encoding":{"text":{"field":"t"}}},
{"data":{"values":[{"r":"btn","x":985,"y":505,"t":"垂直比例"}]},"mark":{"type":"text","align":"center","baseline":"middle","font":"Noto Sans CJK TC","fontSize":5.5},"encoding":{"text":{"field":"t"}}}
]}
],
"resolve":{"scale":{"x":"independent","y":"independent"}}}
